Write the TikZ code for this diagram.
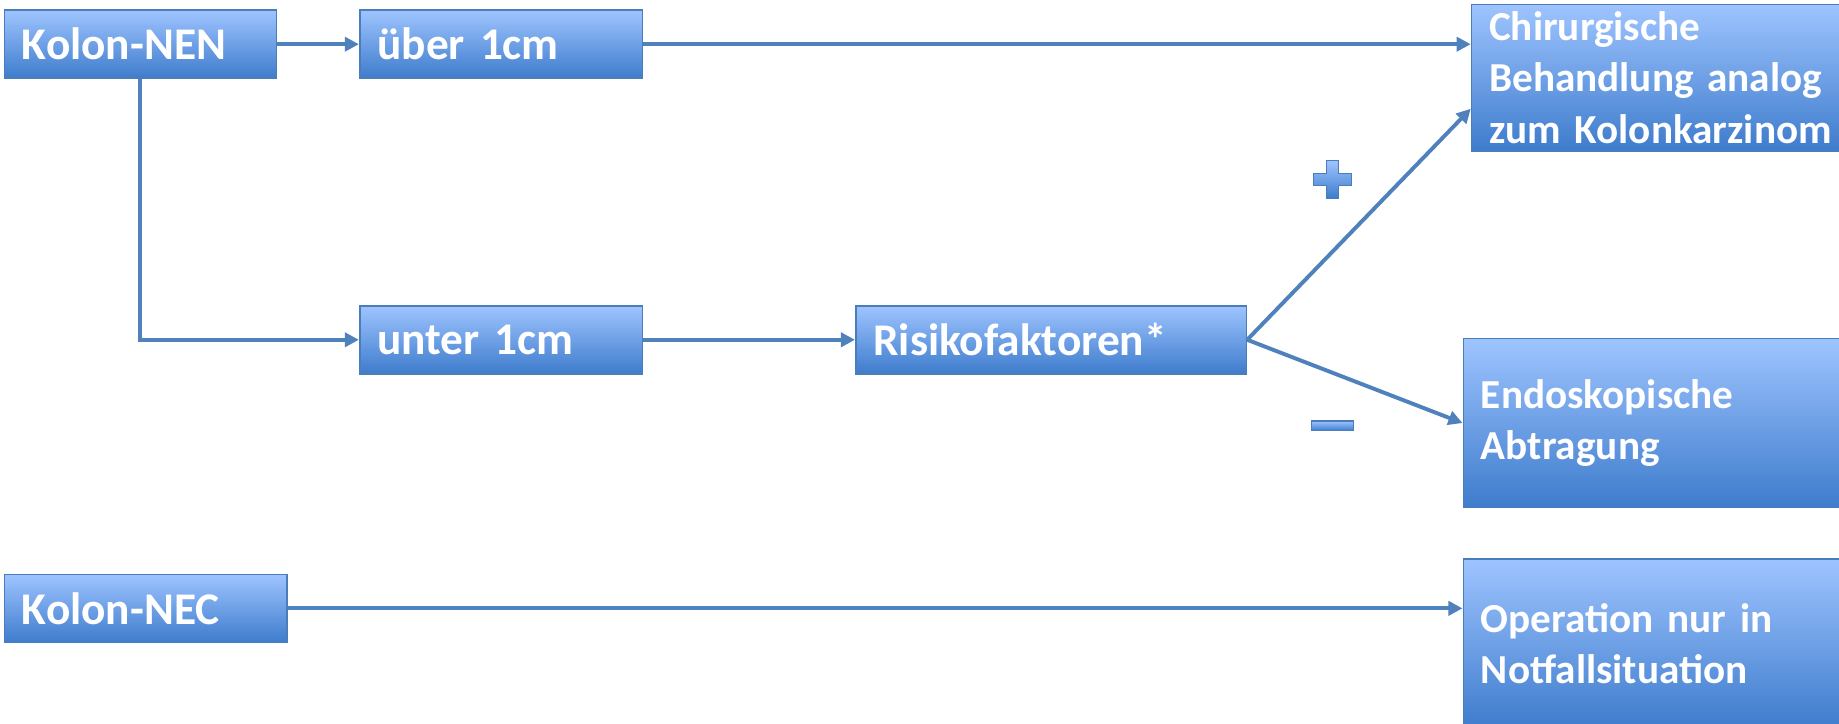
\documentclass[tikz,border=0pt]{standalone}
\usepackage{fontspec}
\setmainfont{Carlito}
\usetikzlibrary{arrows.meta,calc}

\definecolor{boxtop}{RGB}{158,196,255}
\definecolor{boxbot}{RGB}{62,124,204}
\definecolor{boxline}{RGB}{74,126,187}
\definecolor{linkblue}{RGB}{79,129,189}

\tikzset{
	box/.style={draw=boxline, line width=0.8pt, top color=boxtop, bottom color=boxbot,
		text=white, font=\fontsize{22}{26}\selectfont\bfseries, align=left,
		inner xsep=3mm, inner ysep=0pt, anchor=north west},
	bigbox/.style={box, font=\fontsize{20}{25}\selectfont\bfseries},
	link/.style={draw=linkblue, line width=1.9pt, -{Triangle[length=2.4mm,width=2.4mm]}},
}

\begin{document}
\begin{tikzpicture}[x=0.2mm,y=-0.2mm]
		\useasboundingbox (0,0) rectangle (1568,617);

		\node[box, text width=40.4mm, minimum height=11.6mm] (nen) at (3,8) {Kolon-NEN};
		\node[box, text width=42.2mm, minimum height=11.6mm] (ueber) at (306,8) {über 1cm};
		\node[bigbox, text width=60mm, minimum height=25mm] (chir) at (1254,3)
			{Chirurgische\\Behandlung analog\\zum Kolonkarzinom};
		\node[box, text width=42.2mm, minimum height=11.6mm] (unter) at (306,260) {unter 1cm};
		\node[box, text width=60.6mm, minimum height=11.6mm] (risk) at (729,260) {Risikofaktoren*};
		\node[bigbox, text width=62mm, minimum height=28.8mm] (endo) at (1247,288)
			{Endoskopische\\Abtragung};
		\node[box, text width=42.2mm, minimum height=11.6mm] (nec) at (3,489) {Kolon-NEC};
		\node[bigbox, text width=62mm, minimum height=28.8mm] (op) at (1247,476)
			{Operation nur in\\Notfallsituation};

		\coordinate (chirin) at ($(chir.south west)!0.29!(chir.north west)$);

		\draw[link] (nen.east) -- (ueber.west);
		\draw[link] (nen.south) |- (unter.west);
		\draw[link] (ueber.east) -- (ueber.east -| chir.west);
		\draw[link] (unter.east) -- (risk.west);
		\draw[link] (risk.east) -- (chirin);
		\draw[link] (risk.east) -- (endo.west);
		\draw[link] (nec.east) -- (nec.east -| op.west);

		% plus and minus
		\draw[boxline, line width=0.6pt, top color=boxtop, bottom color=boxbot]
			(1131,137) -- (1141,137) -- (1141,148) -- (1152,148) -- (1152,158) -- (1141,158)
			-- (1141,169) -- (1131,169) -- (1131,158) -- (1120,158) -- (1120,148) -- (1131,148) -- cycle;
		\draw[boxline, line width=0.6pt, top color=boxtop, bottom color=boxbot]
			(1118,359) rectangle (1154,367);
	\end{tikzpicture}
\end{document}
